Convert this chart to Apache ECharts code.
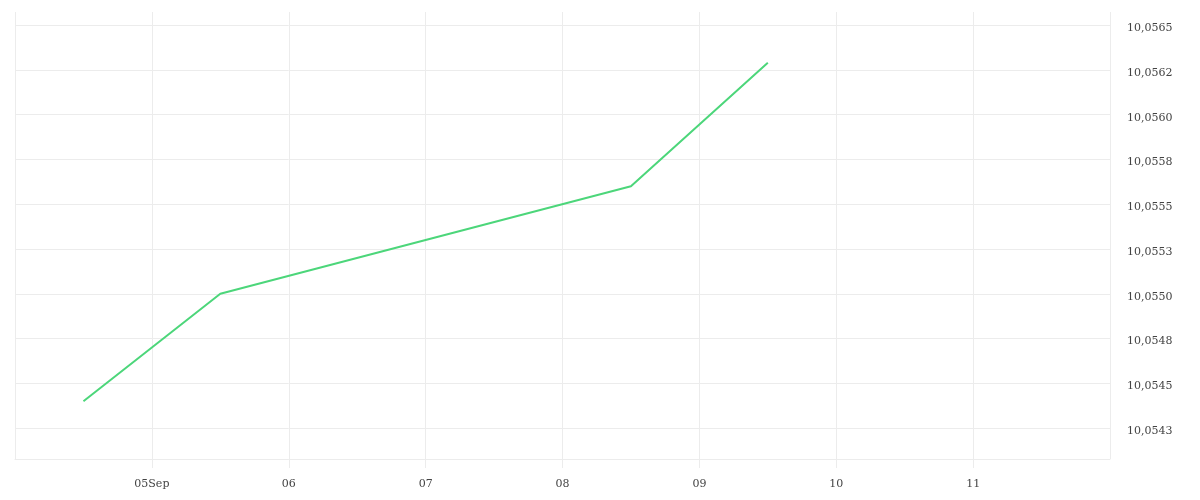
<!DOCTYPE html>
<html>
<head>
<meta charset="utf-8">
<script src="https://cdn.jsdelivr.net/npm/echarts@6/dist/echarts.min.js"></script>
<style>
  html, body { margin: 0; padding: 0; background: #fff; }
  #chart { width: 1200px; height: 500px; }
</style>
</head>
<body>
<div id="chart"></div>
<script>
var DAY = 86400000;
// dates of the points (UTC, noon)
var pointDates = ['2025-09-04T12:00:00Z', '2025-09-05T12:00:00Z', '2025-09-08T12:00:00Z', '2025-09-09T12:00:00Z'];
var pointValues = [10.05440, 10.05500, 10.05560, 10.05629];
var monthNames = ['Jan', 'Feb', 'Mar', 'Apr', 'May', 'Jun', 'Jul', 'Aug', 'Sep', 'Oct', 'Nov', 'Dec'];

// y ticks and their labels as shown
var yTickValues = [10.05425, 10.0545, 10.05475, 10.055, 10.05525, 10.0555, 10.05575, 10.056, 10.05625, 10.0565];
var yTickLabels = ['10,0543', '10,0545', '10,0548', '10,0550', '10,0553', '10,0555', '10,0558', '10,0560', '10,0562', '10,0565'];

var xMin = Date.UTC(2025, 8, 4);
var xMax = Date.UTC(2025, 8, 12);
var yMin = 10.054078;
var yMax = 10.056573;

var chart = echarts.init(document.getElementById('chart'));

var seriesData = pointDates.map(function (d, i) {
    return [new Date(d).getTime(), pointValues[i]];
});

var fontFamily = 'DejaVu Serif';
var gridColor = '#ececec';

chart.setOption({
    animation: false,
    grid: { left: 15, right: 90, top: 12, bottom: 41 },
    xAxis: {
        type: 'value',
        min: xMin,
        max: xMax,
        interval: DAY,
        axisLine: { show: true, lineStyle: { color: gridColor } },
        axisTick: { show: true, length: 9, lineStyle: { color: gridColor } },
        splitLine: { show: true, lineStyle: { color: gridColor } },
        axisLabel: {
            showMinLabel: false,
            showMaxLabel: false,
            margin: 20,
            color: '#444',
            fontFamily: fontFamily,
            fontSize: 11,
            formatter: function (val, idx) {
                var d = new Date(val);
                var day = ('0' + d.getUTCDate()).slice(-2);
                //第一个标签带月份
                return idx === 1 ? day + monthNames[d.getUTCMonth()] : day;
            }
        }
    },
    yAxis: {
        type: 'value',
        position: 'right',
        min: yMin,
        max: yMax,
        axisLine: { show: false },
        axisTick: { show: false, customValues: [yMin].concat(yTickValues) },
        splitLine: { show: true, lineStyle: { color: gridColor } },
        axisLabel: {
            customValues: yTickValues,
            margin: 17,
            verticalAlign: 'top',
            lineHeight: 6,
            color: '#444',
            fontFamily: fontFamily,
            fontSize: 11,
            formatter: function (val) {
                var i = yTickValues.indexOf(val);
                return i >= 0 ? yTickLabels[i] : '';
            }
        }
    },
    series: [{
        type: 'line',
        data: seriesData,
        symbol: 'none',
        lineStyle: { color: '#4cd67a', width: 2 },
        itemStyle: { color: '#4cd67a' }
    }]
});
</script>
</body>
</html>
